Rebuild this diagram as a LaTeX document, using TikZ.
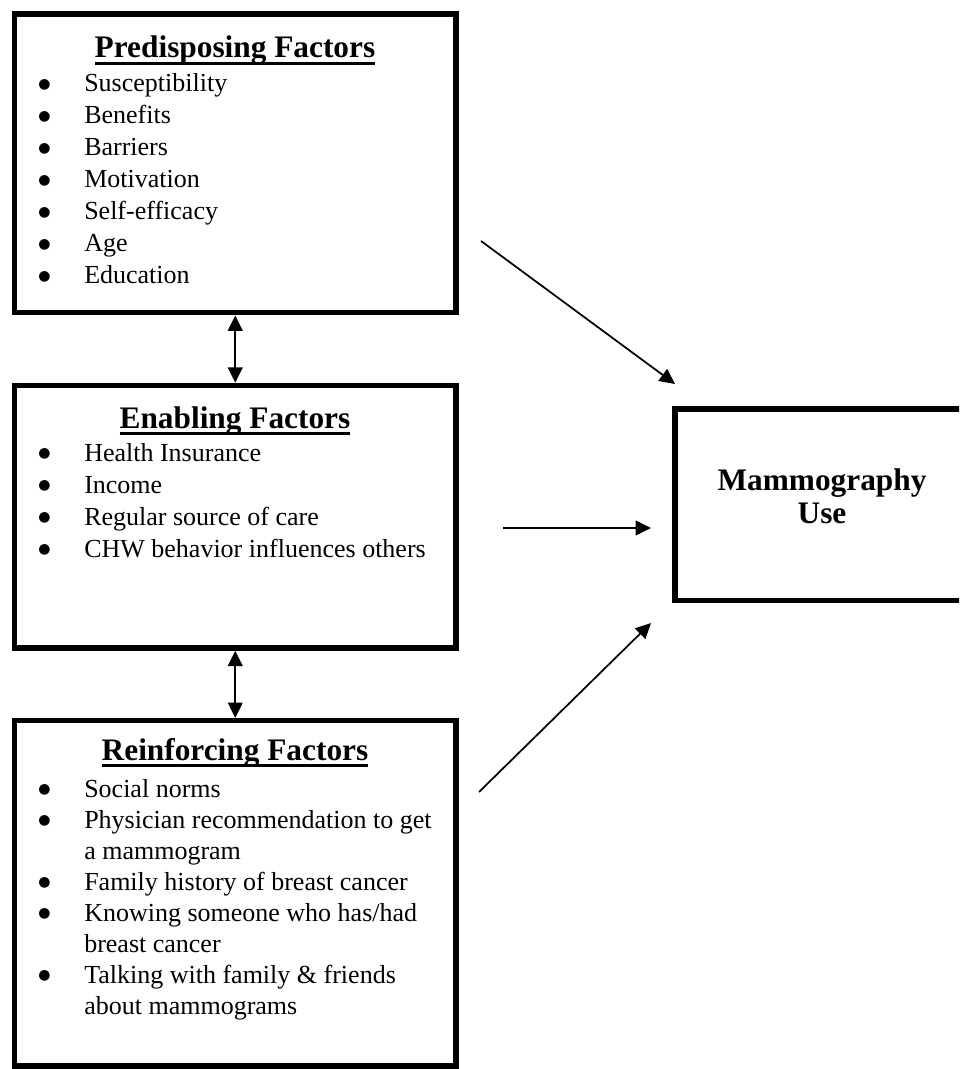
\documentclass[tikz,border=0pt]{standalone}
\usepackage{fontspec}
\setmainfont{Liberation Serif}
\newfontfamily\dotfont{DejaVu Sans}
\usetikzlibrary{arrows.meta,positioning}
\newcommand{\headline}[1]{\setbox0\hbox{#1}\rlap{\rule[-5.2pt]{\wd0}{2pt}}\box0}
\newcommand{\dotmark}{\raisebox{2.6pt}{\dotfont\fontsize{10.5}{11}\selectfont ●}}

\begin{document}
\begin{tikzpicture}[x=0.75pt,y=-0.75pt,>={Triangle[length=11.5pt,width=11pt]}]
        \tikzstyle{factorbox}=[draw,line width=4pt,inner sep=0pt]
        \tikzstyle{boxtitle}=[inner sep=0pt,font=\fontsize{23.5}{28}\selectfont\bfseries]
        \tikzstyle{itemlist}=[inner sep=0pt,anchor=base west,font=\fontsize{19.5}{24}\selectfont]
        \tikzstyle{link}=[line width=1.3pt]
        % Page frame
        \clip (0,0) rectangle (959,1069);

        % Predisposing box
        \node[factorbox, minimum width=331pt, minimum height=224pt] (pbox) at (235.25,163.5) {};
        \node[boxtitle, anchor=base] (ptitle) at (235,58) {\headline{Predisposing Factors}};
        \node[itemlist] (plist) at (38,92) {\begin{tabular}[t]{@{}p{34.5pt}@{}l@{}}
            \dotmark & Susceptibility\\
            \dotmark & Benefits\\
            \dotmark & Barriers\\
            \dotmark & Motivation\\
            \dotmark & Self-efficacy\\
            \dotmark & Age\\
            \dotmark & Education
        \end{tabular}};

        % Enabling box
        \node[factorbox, minimum width=331pt, minimum height=197pt] (ebox) at (235.25,516.75) {};
        \node[boxtitle, anchor=base] (etitle) at (235,428) {\headline{Enabling Factors}};
        \node[itemlist] (elist) at (38,461) {\begin{tabular}[t]{@{}p{34.5pt}@{}l@{}}
            \dotmark & Health Insurance\\
            \dotmark & Income\\
            \dotmark & Regular source of care\\
            \dotmark & CHW behavior influences others
        \end{tabular}};

        % Reinforcing box
        \node[factorbox, minimum width=331pt, minimum height=259pt] (rbox) at (235.25,893.25) {};
        \node[boxtitle, anchor=base] (rtitle) at (235,760) {\headline{Reinforcing Factors}};
        \node[itemlist, font=\fontsize{19.5}{23.3}\selectfont] (rlist) at (38,797) {\begin{tabular}[t]{@{}p{34.5pt}@{}l@{}}
            \dotmark & Social norms\\
            \dotmark & Physician recommendation to get\\
                     & a mammogram\\
            \dotmark & Family history of breast cancer\\
            \dotmark & Knowing someone who has/had\\
                     & breast cancer\\
            \dotmark & Talking with family \& friends\\
                     & about mammograms
        \end{tabular}};

        % Outcome box (runs off the right edge)
        \node[factorbox, minimum width=220.5pt, minimum height=143.6pt] (mbox) at (822,504.75) {};
        \node[boxtitle, anchor=base] (mtext) at (822,490) {\fontsize{23.5}{24.75}\selectfont\begin{tabular}[t]{@{}c@{}}Mammography\\Use\end{tabular}};

        % Links between the factor boxes
        \draw[link, <->] (pbox.south) -- (ebox.north);
        \draw[link, <->] (ebox.south) -- (rbox.north);

        % Arrows into the outcome box
        \coordinate (ptail) at (481,241);
        \coordinate (phead) at (675,384);
        \coordinate (etail) at (503,528);
        \coordinate (ehead) at (651,528);
        \coordinate (rtail) at (479,792);
        \coordinate (rhead) at (651,623);
        \draw[link, ->] (ptail) -- (phead);
        \draw[link, ->] (etail) -- (ehead);
        \draw[link, ->] (rtail) -- (rhead);
\end{tikzpicture}
\end{document}
